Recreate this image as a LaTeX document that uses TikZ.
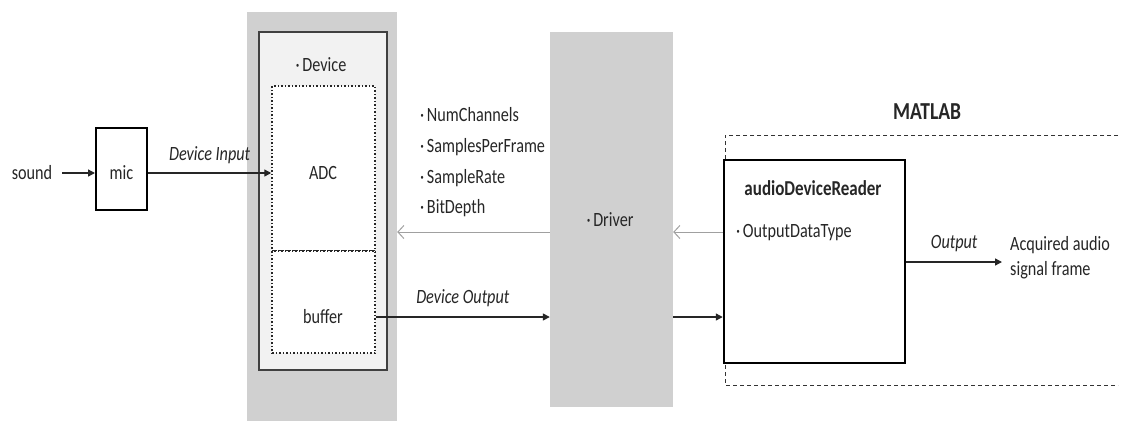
\documentclass[tikz,border=0pt]{standalone}
\usepackage{graphicx}
\usepackage{fontspec}
\setmainfont{Carlito}
\usetikzlibrary{arrows.meta}
\newcommand{\vs}[1]{\scalebox{1}[1.25]{#1}}
\definecolor{txtc}{HTML}{262626}
\definecolor{outerg}{HTML}{D0D0D0}
\definecolor{innerg}{HTML}{F2F2F2}
\definecolor{arrg}{HTML}{A0A0A0}
\tikzset{
  txt/.style={inner sep=0pt, text=txtc},
  box/.style={draw, inner sep=0pt, anchor=center},
  blk/.style={-{Triangle[length=7pt,width=7pt]}, line width=1.4pt, draw=black!85},
  gry/.style={-{Straight Barb[length=6pt,width=13pt]}, line width=1pt, draw=arrg},
  itl/.style={txt, font=\fontsize{16.2}{19}\selectfont\itshape},
}
\begin{document}
\begin{tikzpicture}[x=1pt,y=-1pt,font=\fontsize{16.2}{19}\selectfont]
\useasboundingbox[fill=white] (0,0) rectangle (1121,421);
% device column
\node[fill=outerg, inner sep=0pt, minimum width=150pt, minimum height=409pt] (outer) at (322,216.5) {};
\node[box, fill=innerg, draw=black!75, line width=1.5pt, minimum width=128pt, minimum height=338pt] (devbox) at (323,201) {};
\node[box, fill=white, draw=black!85, line width=1.5pt, dotted, minimum width=103pt, minimum height=165pt] (adc) at (323.5,168.5) {};
\node[box, fill=white, draw=black!85, line width=1.5pt, dotted, minimum width=103pt, minimum height=102pt] (buffer) at (323.5,302) {};
\node[txt] (devlbl) at (321,65) {\vs{·\,Device}};
\node[txt] (adclbl) at (323,173) {\vs{ADC}};
\node[txt] (buflbl) at (323,317) {\vs{buffer}};
% driver
\node[fill=outerg, inner sep=0pt, minimum width=123pt, minimum height=375pt] (driver) at (611.5,219.5) {};
\node[txt] (drvlbl) at (610,220) {\vs{·\,Driver}};
% mic
\node[box, draw=black, line width=2pt, minimum width=51pt, minimum height=82pt] (mic) at (121.5,169) {};
\node[txt] (miclbl) at (121.5,173) {\vs{mic}};
\node[txt] (sound) at (32,173) {\vs{sound}};
% MATLAB region
\coordinate (mtr) at (1118,135);
\coordinate (mbr) at (1118,385);
\draw[dashed, line width=1pt, black!80, dash pattern=on 4pt off 3pt] (mtr) -- (725,135) -- (725,385) -- (mbr);
\node[txt, font=\fontsize{19.5}{22}\selectfont\bfseries] (matlab) at (927,112) {\vs{MATLAB}};
\node[box, fill=white, draw=black, line width=2.5pt, minimum width=181pt, minimum height=203pt] (reader) at (814.5,261.5) {};
\node[txt, font=\fontsize{17}{20}\selectfont\bfseries] (readerlbl) at (813,188) {\vs{audioDeviceReader}};
\node[txt, anchor=west] (odt) at (736,233) {\vs{·\,OutputDataType}};
% parameters
\node[txt, anchor=west] (p1) at (420,115) {\vs{·\,NumChannels}};
\node[txt, anchor=west] (p2) at (420,147) {\vs{·\,SamplesPerFrame}};
\node[txt, anchor=west] (p3) at (420,178) {\vs{·\,SampleRate}};
\node[txt, anchor=west] (p4) at (420,208) {\vs{·\,BitDepth}};
% output
\node[txt, anchor=west] (acq1) at (1010,245) {\vs{Acquired audio}};
\node[txt, anchor=west] (acq2) at (1010,270) {\vs{signal frame}};
\coordinate (outend) at (1002,262);
% gray control arrows
\coordinate (gy) at (0,232);
\draw[gry] (driver.west |- gy) -- (outer.east |- gy);
\draw[gry] (reader.west |- gy) -- (driver.east |- gy);
% black data arrows
\draw[blk] (sound.east) ++(10,0) coordinate (s0) (s0) -- (mic.west |- s0);
\draw[blk] (mic.east |- adclbl) -- node[itl, above=9pt] (dinlbl) {\vs{Device Input}} (adc.west |- adclbl);
\draw[blk] (buffer.east |- buflbl) -- node[itl, above=10pt] (doutlbl) {\vs{Device Output}} (driver.west |- buflbl);
\draw[blk] (driver.east |- buflbl) -- (reader.west |- buflbl);
\draw[blk] (reader.east |- outend) -- node[itl, above=10pt] (outlbl) {\vs{Output}} (outend);
\end{tikzpicture}
\end{document}
